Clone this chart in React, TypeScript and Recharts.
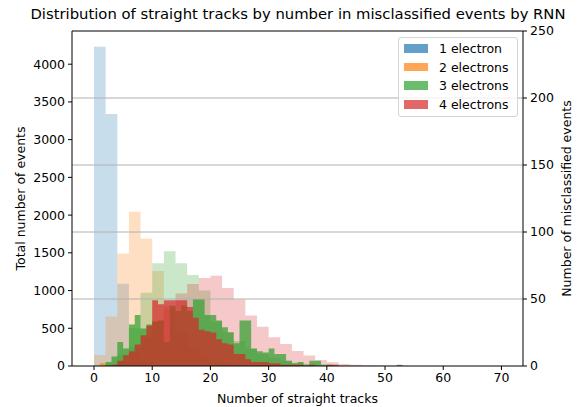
import React from 'react';
import { ComposedChart, Area, XAxis, YAxis, ReferenceLine, Legend } from 'recharts';

const names = ['1 electron', '2 electrons', '3 electrons', '4 electrons'];
const colors = ['#1f77b4', '#ff7f0e', '#2ca02c', '#d62728'];

const xTicks = [0, 10, 20, 30, 40, 50, 60, 70];
const leftTicks = [0, 500, 1000, 1500, 2000, 2500, 3000, 3500, 4000];
const rightTicks = [0, 50, 100, 150, 200, 250];
const gridLines = [50, 100, 150, 200];

// total events, bins of width 2 from 0 to 70
const total1 = [4230, 3340, 1090, 250, 60, 15, 5, 0, 0, 0, 0, 0, 0, 0, 0, 0, 0, 0, 0, 0, 0, 0, 0, 0, 0, 0, 0, 0, 0, 0, 0, 0, 0, 0, 0];
const total2 = [145, 655, 1490, 2045, 1690, 1260, 750, 450, 250, 130, 70, 35, 15, 8, 4, 0, 0, 0, 0, 0, 0, 0, 0, 0, 0, 0, 0, 0, 0, 0, 0, 0, 0, 0, 0];
const total3 = [0, 20, 150, 500, 970, 1363, 1520, 1363, 1205, 1000, 590, 450, 330, 230, 160, 110, 70, 45, 30, 15, 8, 4, 2, 0, 0, 0, 0, 0, 0, 0, 0, 0, 0, 0, 0];
const total4 = [0, 10, 60, 180, 380, 600, 800, 960, 1088, 1165, 1195, 1035, 880, 670, 520, 380, 290, 200, 140, 80, 50, 25, 15, 10, 5, 4, 2, 0, 0, 0, 0, 0, 0, 0, 0];

// misclassified events, bins of width 1 from 0 to 70
const mis1 = [0, 0, 0, 0, 0, 0, 0, 0, 0, 0, 0, 0, 0, 0, 0, 0, 0, 0, 0, 0, 0, 0, 0, 0, 0, 0, 0, 0, 0, 0, 0, 0, 0, 0, 0, 0, 0, 0, 0, 0, 0, 0, 0, 0, 0, 0, 0, 0, 0, 0, 0, 0, 0, 0, 0, 0, 0, 0, 0, 0, 0, 0, 0, 0, 0, 0, 0, 0, 0, 0];
const mis2 = [0, 2, 1, 1, 1, 1, 0, 1, 0, 0, 0, 0, 0, 0, 0, 0, 0, 0, 0, 0, 0, 0, 0, 0, 0, 0, 0, 0, 0, 0, 0, 0, 0, 0, 0, 0, 0, 0, 0, 0, 0, 0, 0, 0, 0, 0, 0, 0, 0, 0, 0, 0, 0, 0, 0, 0, 0, 0, 0, 0, 0, 0, 0, 0, 0, 0, 0, 0, 0, 0];
const mis3 = [0, 0, 3, 7, 18, 13, 31, 38, 28, 31, 33, 34, 18, 45, 41, 45, 41, 50, 50, 38, 38, 34, 29, 25, 17, 34, 34, 13, 11, 10, 13, 9, 9, 4, 2, 3, 1, 4, 4, 1, 1, 0, 0, 0, 0, 0, 0, 0, 0, 0, 0, 0, 1, 0, 0, 0, 0, 0, 0, 0, 0, 0, 0, 0, 0, 0, 0, 0, 0, 0];
const mis4 = [0, 0, 0, 1, 4, 8, 11, 16, 23, 30, 49, 46, 49, 49, 49, 49, 44, 36, 27, 26, 25, 20, 17, 16, 9, 9, 5, 3, 3, 3, 2, 2, 1, 1, 1, 1, 0, 1, 0, 0, 1, 1, 0, 0, 0, 0, 0, 0, 0, 0, 0, 0, 0, 0, 0, 0, 0, 0, 0, 0, 0, 0, 0, 0, 0, 0, 0, 0, 0, 0];

const totals = [total1, total2, total3, total4];
const mis = [mis1, mis2, mis3, mis4];

const data = Array.from({ length: 71 }, (_, x) => {
  const row: Record<string, number> = { x };
  totals.forEach((s, i) => {
    row['t' + i] = x < 70 ? s[Math.floor(x / 2)] : 0;
  });
  mis.forEach((s, i) => {
    row['m' + i] = x < 70 ? s[x] : 0;
  });
  return row;
});

const font = 'DejaVu Sans';
const fs = 12.5;
const tickStyle = { fontSize: fs, fill: '#000', fontFamily: font };

const AxisTitle = (props: any) => (
  <text
    x={props.px}
    y={props.py}
    transform={`rotate(-90, ${props.px}, ${props.py})`}
    textAnchor="middle"
    dominantBaseline="central"
    fontSize={fs}
    fontFamily={font}
    fill="#000"
  >
    {props.text}
  </text>
);

const LegendBox = () => (
  <div
    style={{
      width: 120,
      height: 80,
      boxSizing: 'border-box',
      border: '1px solid #d5d5d5',
      borderRadius: 3,
      background: 'rgba(255,255,255,0.8)',
      paddingTop: 1,
      fontFamily: font,
    }}
  >
    {names.map((n, i) => (
      <div key={n} style={{ display: 'flex', alignItems: 'center', height: 18.7 }}>
        <span
          style={{
            display: 'inline-block',
            width: 24,
            height: 8.5,
            marginLeft: 5,
            marginRight: 11,
            background: colors[i],
            opacity: 0.7,
          }}
        />
        <span style={{ fontSize: fs, color: '#000', lineHeight: '13px', whiteSpace: 'nowrap' }}>{n}</span>
      </div>
    ))}
  </div>
);

export default function App() {
  return (
    <div style={{ position: 'absolute', left: 0, top: 0, width: 577, height: 407, background: '#fff' }}>
      <div
        style={{
          position: 'absolute',
          left: 0,
          width: 596,
          top: 5,
          textAlign: 'center',
          fontFamily: font,
          fontSize: 14.8,
          color: '#000',
          whiteSpace: 'nowrap',
          lineHeight: '18px',
        }}
      >
        Distribution of straight tracks by number in misclassified events by RNN
      </div>
      <ComposedChart width={577} height={407} data={data} margin={{ top: 31, right: 0, left: 0, bottom: 0 }}>
        <XAxis
          dataKey="x"
          type="number"
          domain={[-3.78, 73.7]}
          ticks={xTicks}
          allowDataOverflow
          height={41}
          tick={tickStyle}
          tickSize={4}
          tickMargin={3}
          tickLine={{ stroke: '#000' }}
          axisLine={{ stroke: '#000' }}
          label={{ value: 'Number of straight tracks', position: 'insideBottom', offset: 4, style: { fontSize: fs, fill: '#000', fontFamily: font } }}
        />
        <YAxis
          yAxisId="left"
          domain={[0, 4440]}
          ticks={leftTicks}
          allowDataOverflow
          width={72}
          tick={tickStyle}
          tickSize={4}
          tickMargin={3}
          tickLine={{ stroke: '#000' }}
          axisLine={{ stroke: '#000' }}
          label={<AxisTitle px={20} py={198.5} text="Total number of events" />}
        />
        <YAxis
          yAxisId="right"
          orientation="right"
          domain={[0, 250]}
          ticks={rightTicks}
          allowDataOverflow
          width={54}
          tick={tickStyle}
          tickSize={4}
          tickMargin={3}
          tickLine={{ stroke: '#000' }}
          axisLine={{ stroke: '#000' }}
          label={<AxisTitle px={566} py={198.5} text="Number of misclassified events" />}
        />
        {totals.map((_, i) => (
          <Area
            key={'t' + i}
            yAxisId="left"
            dataKey={'t' + i}
            type="stepAfter"
            stroke="none"
            fill={colors[i]}
            fillOpacity={0.25}
            dot={false}
            activeDot={false}
            isAnimationActive={false}
            legendType="none"
          />
        ))}
        {gridLines.map((v) => (
          <ReferenceLine key={v} yAxisId="right" y={v} stroke="#b0b0b0" strokeWidth={1} />
        ))}
        {mis.map((_, i) => (
          <Area
            key={'m' + i}
            yAxisId="right"
            dataKey={'m' + i}
            type="stepAfter"
            stroke="none"
            fill={colors[i]}
            fillOpacity={0.7}
            dot={false}
            activeDot={false}
            isAnimationActive={false}
            legendType="none"
          />
        ))}
        <ReferenceLine yAxisId="right" y={250} stroke="#000" strokeWidth={1} />
        <Legend
          layout="vertical"
          align="center"
          verticalAlign="middle"
          content={<LegendBox />}
          wrapperStyle={{ left: 398, top: 37, width: 120, height: 80 }}
        />
      </ComposedChart>
    </div>
  );
}
